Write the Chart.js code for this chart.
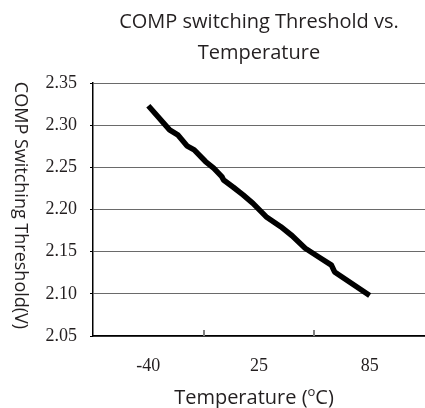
<!DOCTYPE html>
<html>
<head>
<meta charset="utf-8">
<script src="https://cdn.jsdelivr.net/npm/chart.js@4.4.1/dist/chart.umd.min.js"></script>
<style>
  html, body { margin: 0; padding: 0; background: #fff; }
  #wrap { width: 425px; height: 408px; }
</style>
</head>
<body>
<div id="wrap"><canvas id="chart"></canvas></div>
<script>
// temperature categories shown on the x axis
const xLabels = ['-40', '25', '85'];

// traced curve: temperature (°C) and threshold (V)
const tempC = [-40, -28, -23.4, -18.2, -14.1, -7.7, -3.1, 1.5, 2.5, 8.0, 13.5, 19.1, 26.5, 34.8, 41.2, 48.6, 56.0, 63.4, 65.2, 85];
const threshold = [2.323, 2.2945, 2.2886, 2.2755, 2.2707, 2.2569, 2.249, 2.239, 2.235, 2.2264, 2.2173, 2.2073, 2.1915, 2.1796, 2.1689, 2.154, 2.144, 2.134, 2.126, 2.098];

// y axis ticks
const yMin = 2.05;
const yMax = 2.35;
const yStep = 0.05;

const titleLines = ['COMP switching Threshold vs.', 'Temperature'];
const yTitle = 'COMP Switching Threshold(V)';

const textColor = '#231f20';
const sansFont = '"Open Sans", "Noto Sans", sans-serif';
const serifFont = '"Liberation Serif", "DejaVu Serif", serif';

// inward tick marks between categories + rotated y title + x title with superscript
const extras = {
    id: 'extras',
    afterDraw(chart) {
        const ctx = chart.ctx;
        const area = chart.chartArea;
        const x = chart.scales.x;

        ctx.save();
        ctx.strokeStyle = '#808080';
        ctx.lineWidth = 2;
        for (let i = 0; i < xLabels.length - 1; i++) {
            const px = Math.round((x.getPixelForValue(i) + x.getPixelForValue(i + 1)) / 2);
            ctx.beginPath();
            ctx.moveTo(px, area.bottom - 6);
            ctx.lineTo(px, area.bottom);
            ctx.stroke();
        }

        // y title, reading top to bottom
        ctx.fillStyle = textColor;
        ctx.font = '18px ' + sansFont;
        ctx.textAlign = 'center';
        ctx.textBaseline = 'middle';
        ctx.translate(20, (area.top + area.bottom) / 2 - 4);
        ctx.rotate(Math.PI / 2);
        ctx.fillText(yTitle, 0, 0);
        ctx.restore();

        // x title with superscript o
        ctx.save();
        ctx.fillStyle = textColor;
        ctx.textBaseline = 'alphabetic';
        ctx.textAlign = 'left';
        const big = '20px ' + sansFont;
        const small = '13px ' + sansFont;
        const a = 'Temperature (', b = 'o', c = 'C)';
        ctx.font = big;
        const wa = ctx.measureText(a).width;
        const wc = ctx.measureText(c).width;
        ctx.font = small;
        const wb = ctx.measureText(b).width;
        const total = wa + wb + wc;
        let cx = (area.left + area.right) / 2 - 5 - total / 2;
        const base = 404;
        ctx.font = big;
        ctx.fillText(a, cx, base);
        cx += wa;
        ctx.font = small;
        ctx.fillText(b, cx, base - 8);
        cx += wb;
        ctx.font = big;
        ctx.fillText(c, cx, base);
        ctx.restore();
    }
};

new Chart(document.getElementById('chart'), {
    type: 'line',
    data: {
        labels: xLabels,
        datasets: [{
            data: tempC.map((t, i) => ({ x: t, y: threshold[i] })),
            xAxisID: 'xt',
            borderColor: '#000',
            borderWidth: 5.5,
            pointRadius: 0,
            tension: 0,
            borderJoinStyle: 'round'
        }]
    },
    options: {
        responsive: true,
        maintainAspectRatio: false,
        animation: false,
        layout: { padding: { left: 0, right: 0, top: 0, bottom: 0 } },
        plugins: {
            legend: { display: false },
            tooltip: { enabled: false },
            title: {
                display: true,
                fullSize: false,
                text: titleLines,
                color: textColor,
                font: { family: sansFont, size: 20, weight: 'normal', lineHeight: 1.55 },
                padding: { top: 7, bottom: 14 }
            }
        },
        scales: {
            x: {
                type: 'category',
                offset: true,
                grid: { offset: true, drawOnChartArea: false, drawTicks: false },
                border: { color: '#000', width: 1.5 },
                ticks: {
                    color: textColor,
                    font: { family: serifFont, size: 18 },
                    padding: 19
                },
                afterFit(scale) { scale.height = 72; }
            },
            xt: {
                type: 'linear',
                display: false,
                min: -71.25,
                max: 116.25
            },
            y: {
                min: yMin,
                max: yMax,
                ticks: {
                    stepSize: yStep,
                    color: textColor,
                    font: { family: serifFont, size: 18 },
                    padding: 13,
                    callback: v => v.toFixed(2)
                },
                grid: { color: '#6a6a6a', lineWidth: 1, tickLength: 3, tickColor: '#000' },
                border: { color: '#000', width: 1.5 },
                afterFit(scale) { scale.width = 93; }
            }
        }
    },
    plugins: [extras]
});
</script>
</body>
</html>
